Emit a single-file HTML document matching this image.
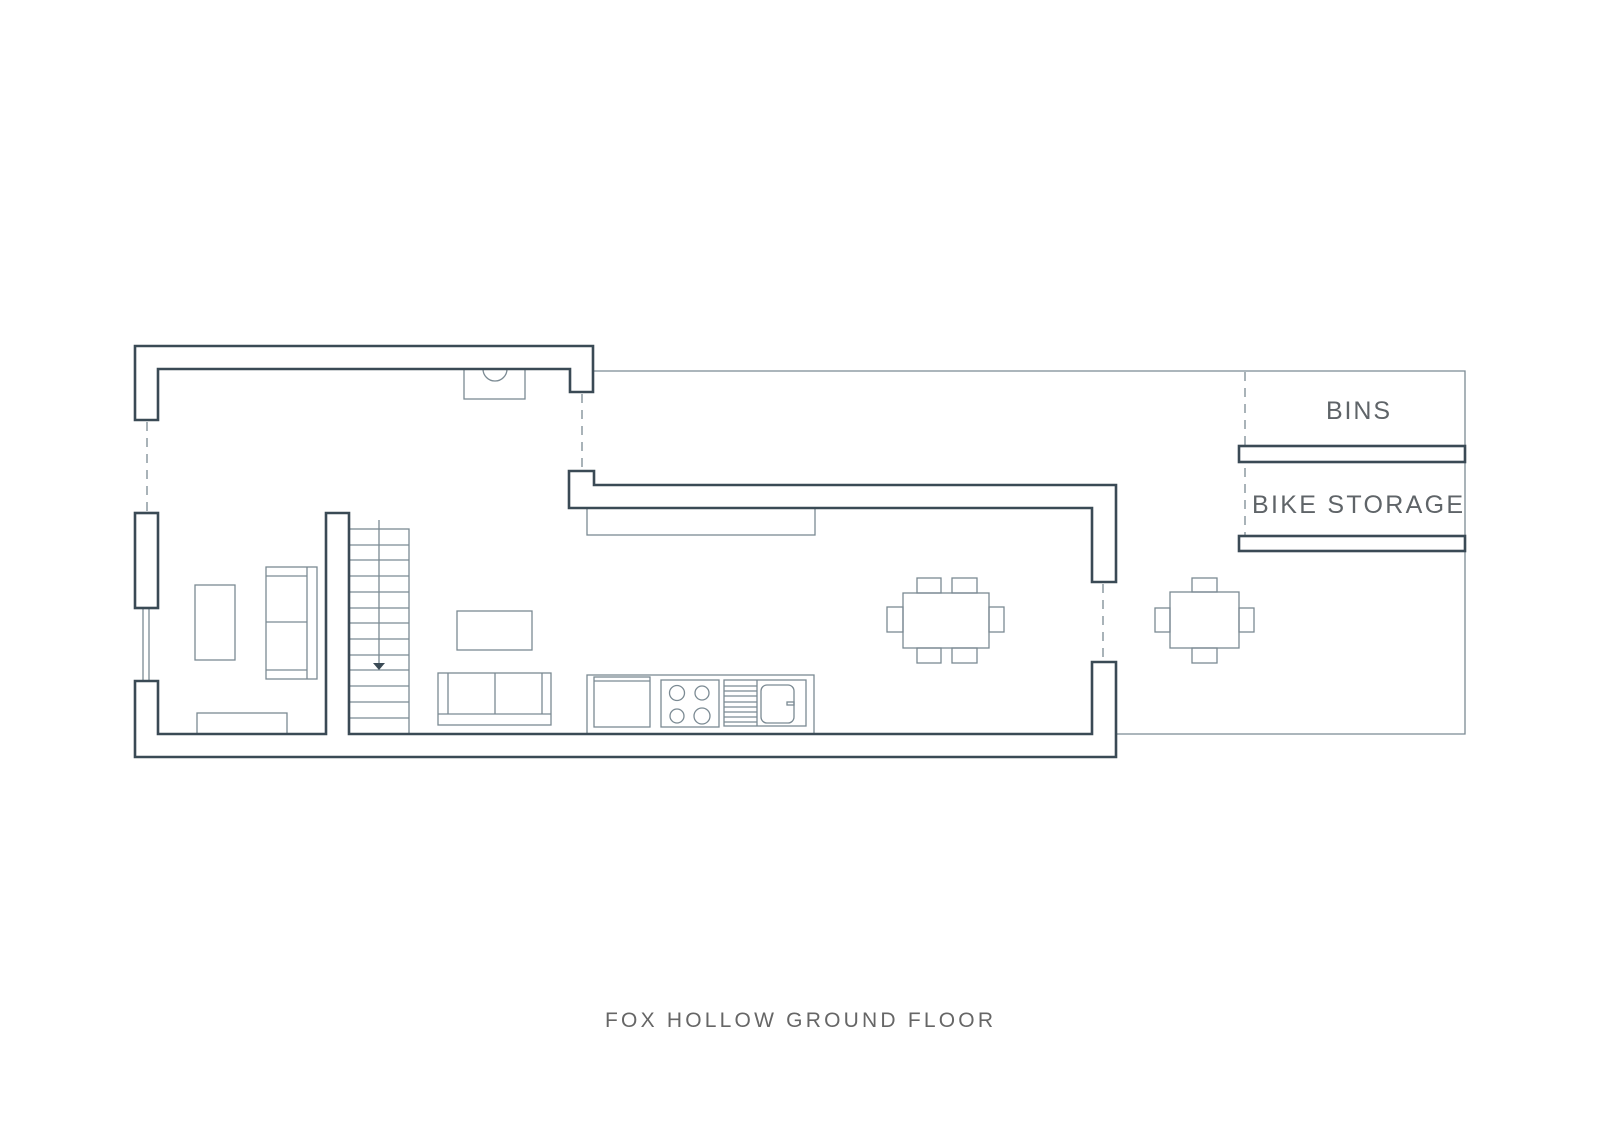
<!DOCTYPE html>
<html><head><meta charset="utf-8"><style>html,body{margin:0;padding:0;background:#fff}svg{display:block}</style></head>
<body>
<svg width="1600" height="1132" viewBox="0 0 1600 1132" xmlns="http://www.w3.org/2000/svg">
<g fill="none" stroke="#7b8a93" stroke-width="1.3">
  <polyline points="593,371 1465,371 1465,734 1116,734"/>
  <line x1="143" y1="608" x2="143" y2="681"/><line x1="149" y1="608" x2="149" y2="681"/>
  <g stroke-dasharray="9,7">
    <line x1="147" y1="422" x2="147" y2="511"/>
    <line x1="582" y1="394" x2="582" y2="469"/>
    <line x1="1103" y1="584" x2="1103" y2="660"/>
    <line x1="1245" y1="372" x2="1245" y2="535"/>
  </g>
  <rect x="464" y="369" width="61" height="30"/>
  <path d="M483,369 A12,12 0 0 0 507,369"/>
  <rect x="195" y="585" width="40" height="75"/>
  <rect x="266" y="567" width="51" height="112"/>
  <line x1="307" y1="567" x2="307" y2="679"/>
  <line x1="266" y1="576" x2="307" y2="576"/>
  <line x1="266" y1="622" x2="307" y2="622"/>
  <line x1="266" y1="670" x2="307" y2="670"/>
  <rect x="197" y="713" width="90" height="21"/>
  <rect x="349" y="529" width="60" height="205"/>
  <g>
    <line x1="349" y1="545" x2="409" y2="545"/><line x1="349" y1="560" x2="409" y2="560"/>
    <line x1="349" y1="576" x2="409" y2="576"/><line x1="349" y1="592" x2="409" y2="592"/>
    <line x1="349" y1="608" x2="409" y2="608"/><line x1="349" y1="623" x2="409" y2="623"/>
    <line x1="349" y1="639" x2="409" y2="639"/><line x1="349" y1="655" x2="409" y2="655"/>
    <line x1="349" y1="670" x2="409" y2="670"/><line x1="349" y1="686" x2="409" y2="686"/>
    <line x1="349" y1="702" x2="409" y2="702"/><line x1="349" y1="718" x2="409" y2="718"/>
  </g>
  <line x1="379" y1="520" x2="379" y2="664"/>
  <rect x="457" y="611" width="75" height="39"/>
  <rect x="438" y="673" width="113" height="52"/>
  <line x1="438" y1="714" x2="551" y2="714"/>
  <line x1="448" y1="673" x2="448" y2="714"/>
  <line x1="542" y1="673" x2="542" y2="714"/>
  <line x1="495" y1="673" x2="495" y2="714"/>
  <rect x="587" y="508" width="228" height="27"/>
  <rect x="587" y="675" width="227" height="59"/>
  <rect x="594" y="677" width="56" height="50"/>
  <line x1="594" y1="681" x2="650" y2="681"/>
  <rect x="661" y="680" width="58" height="47"/>
  <circle cx="677" cy="693" r="7.5"/><circle cx="702" cy="693" r="7"/>
  <circle cx="677" cy="716" r="7"/><circle cx="702" cy="716" r="8"/>
  <rect x="724" y="680" width="82" height="46"/>
  <line x1="757" y1="680" x2="757" y2="726"/>
  <g><line x1="724" y1="686" x2="757" y2="686"/><line x1="724" y1="691" x2="757" y2="691"/>
  <line x1="724" y1="696" x2="757" y2="696"/><line x1="724" y1="702" x2="757" y2="702"/>
  <line x1="724" y1="707" x2="757" y2="707"/><line x1="724" y1="712" x2="757" y2="712"/>
  <line x1="724" y1="717" x2="757" y2="717"/><line x1="724" y1="722" x2="757" y2="722"/></g>
  <rect x="761" y="685" width="33" height="38" rx="6"/>
  <rect x="787" y="702" width="7" height="3"/>
  <rect x="903" y="593" width="86" height="55"/>
  <rect x="917" y="578" width="24" height="15"/><rect x="952" y="578" width="25" height="15"/>
  <rect x="917" y="648" width="24" height="15"/><rect x="952" y="648" width="25" height="15"/>
  <rect x="887" y="607" width="16" height="25"/><rect x="989" y="607" width="15" height="25"/>
  <rect x="1170" y="592" width="69" height="56"/>
  <rect x="1192" y="578" width="25" height="14"/><rect x="1192" y="648" width="25" height="15"/>
  <rect x="1155" y="608" width="15" height="24"/><rect x="1239" y="608" width="15" height="24"/>
</g>
<polygon points="373,663 385,663 379,670" fill="#3a4a55"/>
<g fill="#fff" stroke="#3a4a55" stroke-width="2.6" stroke-linejoin="miter">
  <polygon points="135,420 135,346 593,346 593,392 570,392 570,369 158,369 158,420"/>
  <rect x="135" y="513" width="23" height="95"/>
  <polygon points="135,681 158,681 158,734 326,734 326,513 349,513 349,734 1092,734 1092,662 1116,662 1116,757 135,757"/>
  <polygon points="569,471 594,471 594,485 1116,485 1116,582 1092,582 1092,508 569,508"/>
  <rect x="1239" y="446" width="226" height="16"/>
  <rect x="1239" y="536" width="226" height="15"/>
</g>
<g font-family="Liberation Sans, sans-serif" fill="#5f6468">
  <text x="1326" y="419" font-size="25" textLength="64" lengthAdjust="spacing">BINS</text>
  <text x="1252" y="513" font-size="25" textLength="211" lengthAdjust="spacing">BIKE STORAGE</text>
  <text x="605" y="1027" font-size="21" fill="#666" textLength="388" lengthAdjust="spacing">FOX HOLLOW GROUND FLOOR</text>
</g>
</svg>
</body></html>
